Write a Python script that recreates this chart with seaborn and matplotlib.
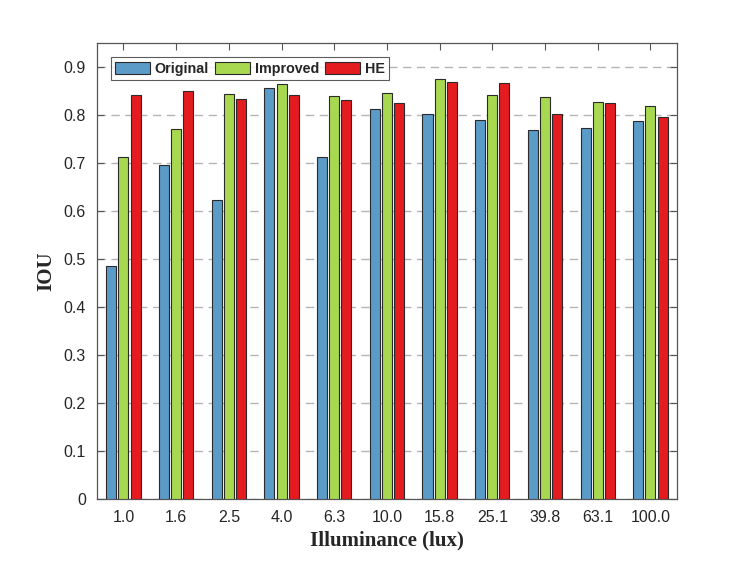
import pandas as pd
import seaborn as sns
import matplotlib.pyplot as plt

illuminance = ['1.0', '1.6', '2.5', '4.0', '6.3', '10.0', '15.8', '25.1', '39.8', '63.1', '100.0']
original = [0.485, 0.697, 0.623, 0.857, 0.712, 0.812, 0.803, 0.790, 0.769, 0.773, 0.788]
improved = [0.713, 0.771, 0.844, 0.866, 0.840, 0.847, 0.876, 0.843, 0.837, 0.828, 0.820]
he = [0.842, 0.851, 0.833, 0.842, 0.831, 0.826, 0.869, 0.868, 0.803, 0.826, 0.797]
methods = ['Original', 'Improved', 'HE']
colors = ['#5b9bc8', '#a8d84f', '#e41b1f']

df = pd.DataFrame({
    'lux': illuminance * 3,
    'iou': original + improved + he,
    'method': [m for m in methods for _ in illuminance],
})

sns.set_style('white')
plt.rcParams['font.family'] = ['Liberation Sans', 'DejaVu Sans']

fig = plt.figure(figsize=(7.47, 5.61), dpi=100)
ax = fig.add_axes([0.130, 0.1105, 0.776, 0.8125])

sns.barplot(data=df, x='lux', y='iou', hue='method', order=illuminance,
            hue_order=methods, palette=colors, width=0.69, gap=0.17,
            edgecolor='#2a2a2a', linewidth=0.8, saturation=1, ax=ax, zorder=3)

ax.set_ylim(0, 0.95)
ax.set_xlim(-0.5, len(illuminance) - 0.5)
yt = [i / 10 for i in range(10)]
ax.set_yticks(yt)
ax.set_yticklabels(['0'] + [f'{v:.1f}' for v in yt[1:]])
ax.yaxis.grid(True, linestyle=(0, (6, 4)), color='#b4b4b4', linewidth=1.0, zorder=0)
ax.xaxis.grid(False)
ax.set_axisbelow(True)

ax.tick_params(direction='in', length=5, width=0.8, colors='#555555',
               labelcolor='#262626', labelsize=11.5, top=True, right=True,
               bottom=True, left=True, pad=8)
for s in ax.spines.values():
    s.set_color('#555555')
    s.set_linewidth(0.9)

ax.set_xlabel('Illuminance (lux)', fontfamily='Liberation Serif', fontweight='bold',
              fontsize=15, labelpad=4)
ax.set_ylabel('IOU', fontfamily='Liberation Serif', fontweight='bold', fontsize=15,
              labelpad=5)

leg = ax.legend(loc='upper left', ncol=3, bbox_to_anchor=(0.024, 0.969),
                frameon=True, fancybox=False, handlelength=2.4, handleheight=1.0,
                columnspacing=0.45, handletextpad=0.35, borderpad=0.3,
                borderaxespad=0, prop={'weight': 'bold', 'size': 10.3})
leg.get_frame().set_edgecolor('#333333')
leg.get_frame().set_linewidth(0.8)
leg.set_zorder(2)

fig.savefig('out.png', dpi=100)
